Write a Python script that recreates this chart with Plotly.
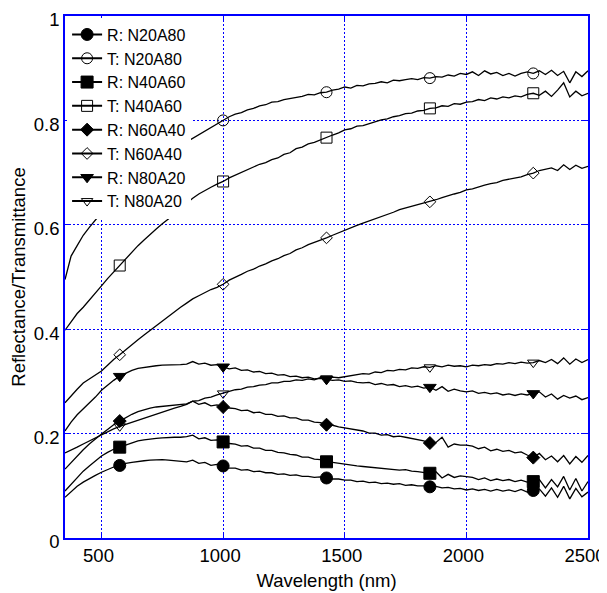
import plotly.graph_objects as go

wavelength_nm = list(range(350, 2501, 25))

t_n20a80 = [0.495, 0.540, 0.560, 0.580, 0.595, 0.610, 0.623, 0.636, 0.648, 0.660,
            0.671, 0.682, 0.692, 0.702, 0.711, 0.720, 0.729, 0.737, 0.745, 0.752,
            0.759, 0.766, 0.773, 0.780, 0.786, 0.793, 0.800, 0.807, 0.812, 0.815,
            0.820, 0.823, 0.828, 0.830, 0.835, 0.836, 0.840, 0.842, 0.845, 0.846,
            0.850, 0.849, 0.853, 0.854, 0.858, 0.860, 0.864, 0.862, 0.867, 0.866,
            0.870, 0.871, 0.874, 0.872, 0.877, 0.876, 0.878, 0.880, 0.878, 0.882,
            0.881, 0.884, 0.883, 0.887, 0.885, 0.890, 0.888, 0.893, 0.886, 0.895,
            0.889, 0.892, 0.886, 0.890, 0.885, 0.890, 0.893, 0.890, 0.895, 0.888,
            0.896, 0.886, 0.894, 0.872, 0.893, 0.884, 0.895]

t_n40a60 = [0.398, 0.415, 0.430, 0.442, 0.455, 0.468, 0.483, 0.497, 0.510, 0.522,
            0.535, 0.548, 0.560, 0.571, 0.582, 0.592, 0.602, 0.611, 0.622, 0.632,
            0.642, 0.651, 0.659, 0.666, 0.672, 0.678, 0.683, 0.690, 0.695, 0.700,
            0.705, 0.710, 0.716, 0.719, 0.725, 0.728, 0.735, 0.738, 0.746, 0.749,
            0.755, 0.758, 0.763, 0.767, 0.772, 0.776, 0.782, 0.784, 0.789, 0.790,
            0.794, 0.797, 0.801, 0.803, 0.807, 0.809, 0.813, 0.814, 0.818, 0.819,
            0.823, 0.824, 0.828, 0.827, 0.832, 0.831, 0.835, 0.836, 0.840, 0.838,
            0.843, 0.841, 0.845, 0.843, 0.847, 0.845, 0.850, 0.852, 0.848, 0.856,
            0.846, 0.858, 0.872, 0.845, 0.856, 0.847, 0.852]

t_n60a40 = [0.259, 0.273, 0.285, 0.297, 0.305, 0.312, 0.320, 0.331, 0.342, 0.351,
            0.361, 0.370, 0.380, 0.389, 0.398, 0.407, 0.416, 0.425, 0.434, 0.442,
            0.450, 0.458, 0.464, 0.470, 0.476, 0.480, 0.486, 0.494, 0.499, 0.505,
            0.511, 0.515, 0.521, 0.525, 0.531, 0.535, 0.541, 0.545, 0.552, 0.556,
            0.562, 0.566, 0.571, 0.575, 0.580, 0.585, 0.590, 0.594, 0.599, 0.603,
            0.607, 0.612, 0.616, 0.620, 0.624, 0.629, 0.632, 0.636, 0.638, 0.642,
            0.644, 0.648, 0.652, 0.656, 0.659, 0.662, 0.667, 0.669, 0.673, 0.676,
            0.679, 0.681, 0.685, 0.687, 0.690, 0.692, 0.696, 0.699, 0.704, 0.706,
            0.709, 0.704, 0.715, 0.706, 0.714, 0.708, 0.712]

r_n80a20 = [0.205, 0.222, 0.236, 0.247, 0.258, 0.270, 0.283, 0.293, 0.302, 0.310,
            0.316, 0.321, 0.325, 0.327, 0.329, 0.330, 0.331, 0.331, 0.331, 0.332,
            0.333, 0.338, 0.333, 0.335, 0.331, 0.332, 0.328, 0.324, 0.326, 0.321,
            0.322, 0.318, 0.319, 0.315, 0.316, 0.312, 0.313, 0.309, 0.310, 0.307,
            0.308, 0.305, 0.306, 0.304, 0.302, 0.303, 0.300, 0.301, 0.298, 0.297,
            0.298, 0.294, 0.296, 0.293, 0.294, 0.290, 0.292, 0.289, 0.291, 0.287,
            0.289, 0.283, 0.290, 0.281, 0.285, 0.282, 0.280, 0.282, 0.277, 0.279,
            0.276, 0.278, 0.274, 0.276, 0.273, 0.276, 0.274, 0.277, 0.280, 0.270,
            0.276, 0.266, 0.273, 0.268, 0.272, 0.265, 0.269]

t_n80a20 = [0.163, 0.168, 0.174, 0.180, 0.186, 0.191, 0.197, 0.203, 0.209, 0.214,
            0.218, 0.222, 0.226, 0.229, 0.233, 0.237, 0.241, 0.245, 0.249, 0.252,
            0.256, 0.262, 0.263, 0.268, 0.270, 0.274, 0.277, 0.280, 0.284, 0.285,
            0.289, 0.290, 0.293, 0.294, 0.297, 0.297, 0.300, 0.300, 0.303, 0.302,
            0.305, 0.303, 0.307, 0.306, 0.308, 0.307, 0.309, 0.311, 0.312, 0.315,
            0.314, 0.318, 0.317, 0.321, 0.320, 0.323, 0.322, 0.326, 0.325, 0.328,
            0.327, 0.330, 0.328, 0.331, 0.329, 0.330, 0.328, 0.331, 0.330, 0.332,
            0.331, 0.334, 0.333, 0.336, 0.334, 0.337, 0.335, 0.336, 0.340, 0.336,
            0.342, 0.334, 0.345, 0.333, 0.343, 0.336, 0.342]

r_n60a40 = [0.132, 0.145, 0.157, 0.169, 0.180, 0.190, 0.199, 0.208, 0.217, 0.224,
            0.231, 0.237, 0.242, 0.246, 0.249, 0.251, 0.252, 0.253, 0.254, 0.255,
            0.257, 0.262, 0.256, 0.259, 0.253, 0.255, 0.251, 0.249, 0.248, 0.244,
            0.245, 0.240, 0.241, 0.237, 0.237, 0.233, 0.234, 0.230, 0.230, 0.226,
            0.226, 0.222, 0.221, 0.217, 0.216, 0.213, 0.211, 0.209, 0.206, 0.205,
            0.201, 0.201, 0.197, 0.198, 0.194, 0.195, 0.193, 0.191, 0.189, 0.186,
            0.182, 0.183, 0.193, 0.174, 0.180, 0.178, 0.178, 0.176, 0.171, 0.174,
            0.167, 0.170, 0.166, 0.168, 0.163, 0.165, 0.159, 0.154, 0.162, 0.150,
            0.157, 0.146, 0.158, 0.142, 0.156, 0.145, 0.158]

r_n40a60 = [0.090, 0.103, 0.116, 0.128, 0.138, 0.148, 0.157, 0.164, 0.170, 0.174,
            0.178, 0.183, 0.186, 0.188, 0.190, 0.191, 0.192, 0.193, 0.193, 0.193,
            0.194, 0.197, 0.190, 0.192, 0.187, 0.188, 0.184, 0.181, 0.180, 0.176,
            0.177, 0.172, 0.172, 0.168, 0.168, 0.164, 0.163, 0.160, 0.159, 0.155,
            0.155, 0.151, 0.150, 0.146, 0.145, 0.143, 0.141, 0.140, 0.138, 0.137,
            0.136, 0.134, 0.133, 0.132, 0.131, 0.130, 0.131, 0.128, 0.127, 0.126,
            0.124, 0.127, 0.115, 0.122, 0.116, 0.119, 0.117, 0.116, 0.112, 0.115,
            0.110, 0.113, 0.110, 0.112, 0.108, 0.111, 0.107, 0.108, 0.112, 0.096,
            0.112, 0.098, 0.118, 0.092, 0.114, 0.090, 0.108]

r_n20a80 = [0.078, 0.089, 0.099, 0.107, 0.114, 0.120, 0.126, 0.131, 0.136, 0.139,
            0.143, 0.145, 0.147, 0.148, 0.149, 0.150, 0.150, 0.149, 0.148, 0.147,
            0.146, 0.149, 0.143, 0.145, 0.139, 0.141, 0.138, 0.134, 0.134, 0.130,
            0.131, 0.127, 0.128, 0.125, 0.125, 0.122, 0.123, 0.120, 0.121, 0.118,
            0.118, 0.116, 0.117, 0.115, 0.113, 0.113, 0.111, 0.111, 0.108, 0.109,
            0.106, 0.107, 0.104, 0.105, 0.103, 0.104, 0.101, 0.102, 0.100, 0.100,
            0.098, 0.099, 0.096, 0.097, 0.094, 0.095, 0.092, 0.094, 0.091, 0.093,
            0.090, 0.093, 0.090, 0.092, 0.089, 0.093, 0.088, 0.091, 0.094, 0.080,
            0.096, 0.078, 0.099, 0.075, 0.095, 0.079, 0.088]

marker_index = [9, 26, 43, 60, 77]

series_names = ["R: N20A80", "T: N20A80", "R: N40A60", "T: N40A60",
                "R: N60A40", "T: N60A40", "R: N80A20", "T: N80A20"]
series_values = [r_n20a80, t_n20a80, r_n40a60, t_n40a60,
                 r_n60a40, t_n60a40, r_n80a20, t_n80a20]
series_symbols = ["circle", "circle-open", "square", "square-open",
                  "diamond", "diamond-open", "triangle-down", "triangle-down-open"]
series_sizes = [12, 11, 12, 11, 10, 9, 11, 10]

FONT = "Liberation Sans, Arial, Helvetica, sans-serif"
BLUE = "#0000ff"

fig = go.Figure()
for name, vals, sym, sz in zip(series_names, series_values, series_symbols, series_sizes):
    fig.add_trace(go.Scatter(x=wavelength_nm, y=vals, mode="lines",
                             line=dict(color="black", width=1.3),
                             showlegend=False, hoverinfo="skip"))
    fig.add_trace(go.Scatter(x=[wavelength_nm[i] for i in marker_index],
                             y=[vals[i] for i in marker_index], mode="markers",
                             marker=dict(symbol=sym, size=sz, color="black",
                                         line=dict(color="black", width=1)),
                             showlegend=False))
for name, sym, sz in zip(series_names, series_symbols, series_sizes):
    fig.add_trace(go.Scatter(x=[None], y=[None], mode="lines+markers", name=name,
                             line=dict(color="black", width=2),
                             marker=dict(symbol=sym, size=sz, color="black",
                                         line=dict(color="black", width=1))))

axis_common = dict(showline=True, linecolor=BLUE, linewidth=1.5, mirror="ticks",
                   ticks="inside", ticklen=5, tickcolor=BLUE, tickwidth=1,
                   showgrid=True, gridcolor=BLUE, gridwidth=1, griddash="2px,2px",
                   zeroline=False, ticklabeloverflow="allow", automargin=False,
                   tickfont=dict(family=FONT, size=18.5, color="black"))

fig.update_xaxes(range=[350, 2500], tick0=500, dtick=500, ticklabelshift=-3,
                 title=dict(text="Wavelength (nm)", font=dict(family=FONT, size=18.5, color="black"),
                            standoff=9),
                 **axis_common)
fig.update_yaxes(range=[0, 1], tick0=0, dtick=0.2, ticklabelshift=4,
                 title=dict(text="Reflectance/Transmittance", font=dict(family=FONT, size=18.5, color="black"),
                            standoff=6),
                 **axis_common)

fig.update_layout(
    width=607, height=593,
    margin=dict(l=57, r=27, t=8, b=63, pad=0),
    paper_bgcolor="white", plot_bgcolor="white",
    font=dict(family=FONT, size=18, color="black"),
    legend=dict(x=0.004, y=0.997, xanchor="left", yanchor="top",
                bgcolor="white", borderwidth=0, tracegroupgap=0,
                font=dict(family=FONT, size=16, color="black"), itemwidth=30),
)

fig.write_html("out.html")
